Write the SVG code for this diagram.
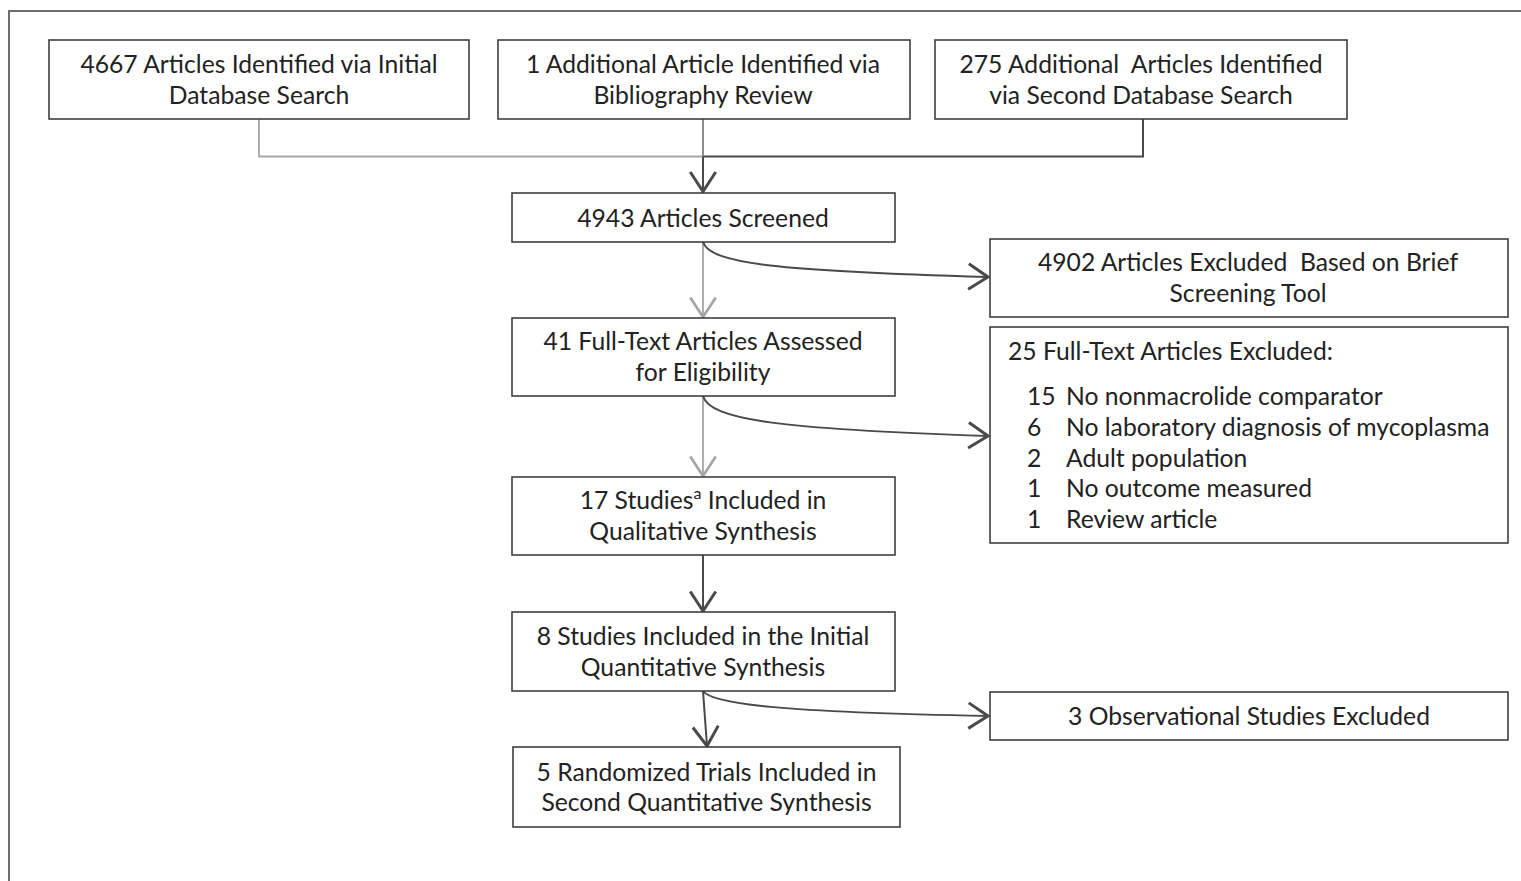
<svg xmlns="http://www.w3.org/2000/svg" width="1521" height="881" viewBox="0 0 1521 881">
  <style>
    .frame { fill: none; stroke: #6e6e6e; stroke-width: 2; }
    .box { fill: #ffffff; stroke: #3f3f3f; stroke-width: 1.6; }
    .t { font-family: Lato, "Open Sans", "Liberation Sans", sans-serif; font-size: 24.7px; fill: #222222; }
    .c { text-anchor: middle; }
    .sup { font-size: 16px; }
    .light { fill: none; stroke: #a6a6a6; stroke-width: 1.8; }
    .mid { fill: none; stroke: #808080; stroke-width: 1.8; }
    .dark { fill: none; stroke: #4a4a4a; stroke-width: 2; }
  </style>
  <defs>
    <marker id="arrDark" markerUnits="userSpaceOnUse" markerWidth="30" markerHeight="30" refX="0" refY="0" viewBox="-16 -10 20 20" orient="auto" overflow="visible">
      <path d="M-13,-8.5 L0,0 L-13,8.5" fill="none" stroke="#4a4a4a" stroke-width="2" stroke-linejoin="miter"/>
    </marker>
    <marker id="arrLight" markerUnits="userSpaceOnUse" markerWidth="30" markerHeight="30" refX="0" refY="0" viewBox="-16 -10 20 20" orient="auto" overflow="visible">
      <path d="M-13,-8.5 L0,0 L-13,8.5" fill="none" stroke="#a6a6a6" stroke-width="1.8" stroke-linejoin="miter"/>
    </marker>
  </defs>

  <rect class="frame" x="9" y="11" width="1530" height="890"/>

  <g id="connectors">
    <path class="light" d="M259,119 V156.5 H703"/>
    <path class="dark" d="M1143,119 V156.5 H703"/>
    <path class="mid" d="M703,119 V156.5"/>
    <path class="dark" d="M703,156.5 V191.5" marker-end="url(#arrDark)"/>
    <path class="light" d="M703,242 V317" marker-end="url(#arrLight)"/>
    <path class="dark" d="M703,242 C710,264 780,271 988,277" marker-end="url(#arrDark)"/>
    <path class="light" d="M703,396 V476" marker-end="url(#arrLight)"/>
    <path class="dark" d="M703,396 C710,420 780,429 988,436" marker-end="url(#arrDark)"/>
    <path class="dark" d="M703,555 V611" marker-end="url(#arrDark)"/>
    <path class="dark" d="M703,691 L707,746" marker-end="url(#arrDark)"/>
    <path class="dark" d="M703,691 C712,704 780,712 988,716" marker-end="url(#arrDark)"/>
  </g>

  <g id="n1">
    <rect class="box" x="49" y="40" width="420" height="79"/>
    <text class="t c" x="259" y="72.5">4667 Articles Identified via Initial</text>
    <text class="t c" x="259" y="103.5">Database Search</text>
  </g>
  <g id="n2">
    <rect class="box" x="498" y="40" width="412" height="79"/>
    <text class="t c" x="703" y="72.5">1 Additional Article Identified via</text>
    <text class="t c" x="703" y="103.5">Bibliography Review</text>
  </g>
  <g id="n3">
    <rect class="box" x="935" y="40" width="412" height="79"/>
    <text class="t c" x="1141" y="72.5" xml:space="preserve">275 Additional  Articles Identified</text>
    <text class="t c" x="1141" y="103.5">via Second Database Search</text>
  </g>
  <g id="n4">
    <rect class="box" x="512" y="193" width="383" height="49"/>
    <text class="t c" x="703" y="226.5">4943 Articles Screened</text>
  </g>
  <g id="n5">
    <rect class="box" x="990" y="239" width="518" height="78"/>
    <text class="t c" x="1248" y="270.5" xml:space="preserve">4902 Articles Excluded  Based on Brief</text>
    <text class="t c" x="1248" y="301.5">Screening Tool</text>
  </g>
  <g id="n6">
    <rect class="box" x="512" y="318" width="383" height="78"/>
    <text class="t c" x="703" y="350">41 Full-Text Articles Assessed</text>
    <text class="t c" x="703" y="381">for Eligibility</text>
  </g>
  <g id="n7">
    <rect class="box" x="990" y="327" width="518" height="216"/>
    <text class="t" x="1008" y="360">25 Full-Text Articles Excluded:</text>
    <text class="t" x="1027" y="405">15</text><text class="t" x="1066" y="405">No nonmacrolide comparator</text>
    <text class="t" x="1027" y="435.5">6</text><text class="t" x="1066" y="435.5">No laboratory diagnosis of mycoplasma</text>
    <text class="t" x="1027" y="466.5">2</text><text class="t" x="1066" y="466.5">Adult population</text>
    <text class="t" x="1027" y="497">1</text><text class="t" x="1066" y="497">No outcome measured</text>
    <text class="t" x="1027" y="527.5">1</text><text class="t" x="1066" y="527.5">Review article</text>
  </g>
  <g id="n8">
    <rect class="box" x="512" y="477" width="383" height="78"/>
    <text class="t c" x="703" y="509">17 Studies<tspan class="sup" dy="-10">a</tspan><tspan dy="10"> Included in</tspan></text>
    <text class="t c" x="703" y="540">Qualitative Synthesis</text>
  </g>
  <g id="n9">
    <rect class="box" x="512" y="612" width="383" height="79"/>
    <text class="t c" x="703" y="645">8 Studies Included in the Initial</text>
    <text class="t c" x="703" y="676">Quantitative Synthesis</text>
  </g>
  <g id="n10">
    <rect class="box" x="990" y="692" width="518" height="48"/>
    <text class="t c" x="1249" y="725">3 Observational Studies Excluded</text>
  </g>
  <g id="n11">
    <rect class="box" x="513" y="747" width="387" height="80"/>
    <text class="t c" x="706.5" y="780.5">5 Randomized Trials Included in</text>
    <text class="t c" x="706.5" y="811">Second Quantitative Synthesis</text>
  </g>
</svg>
